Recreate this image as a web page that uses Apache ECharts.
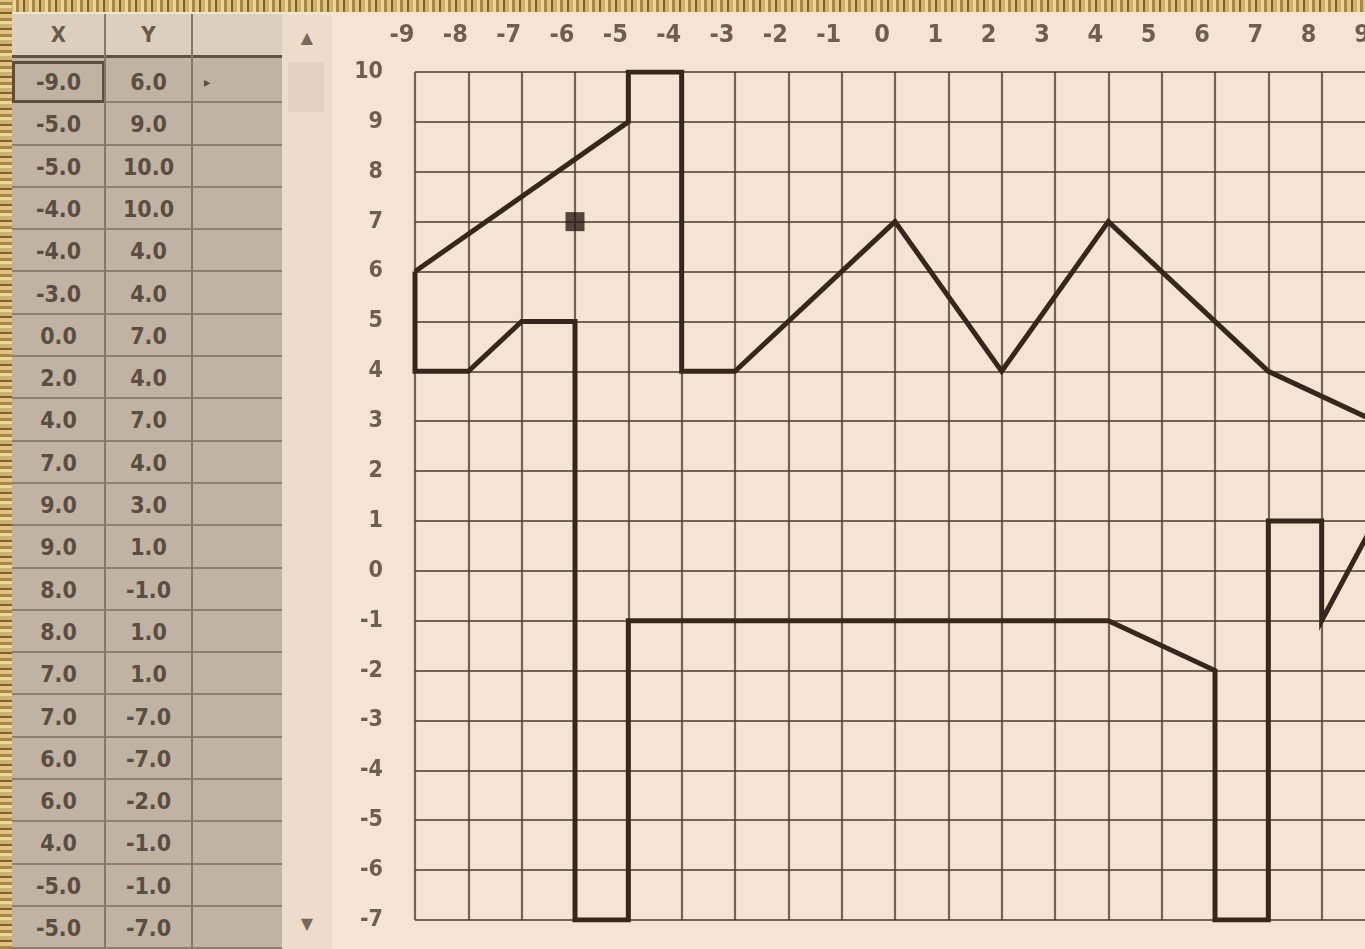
<!DOCTYPE html>
<html>
<head>
<meta charset="utf-8">
<script src="https://cdn.jsdelivr.net/npm/echarts@6/dist/echarts.min.js"></script>
<style>
html,body{margin:0;padding:0;width:1365px;height:949px;overflow:hidden;background:#f4e4d3;}
#chart{position:absolute;left:0;top:0;width:1420px;height:949px;z-index:1;}
#topband{position:absolute;left:0;top:0;width:1365px;height:12px;z-index:5;
  background:repeating-linear-gradient(90deg,#a98642 0 3px,#dcc483 3px 7px,#7f6129 7px 9px,#cfb36b 9px 13px,#e9d69a 13px 16px);}
#leftband{position:absolute;left:0;top:0;width:12px;height:949px;z-index:5;
  background:repeating-linear-gradient(0deg,#a98642 0 3px,#dcc483 3px 7px,#7f6129 7px 9px,#cfb36b 9px 13px,#e9d69a 13px 16px);}
#sheet{position:absolute;left:12px;top:14px;width:270px;height:935px;z-index:3;background:#c0b3a3;
  font-family:"DejaVu Sans Condensed","DejaVu Sans",sans-serif;font-weight:bold;color:#5b4d3f;}
#sheet .hdr{position:absolute;top:0;height:44px;background:#dccfbf;border-bottom:3px solid #5e5244;box-sizing:border-box;
  font-size:22px;line-height:42px;text-align:center;color:#6a5a4a;}
#sheet .cell{position:absolute;box-sizing:border-box;border-bottom:2px solid #8d8070;text-align:center;font-size:23px;}
#sheet .vline{position:absolute;top:0;width:2px;height:935px;background:#85786a;}
#scroll{position:absolute;left:282px;top:14px;width:50px;height:935px;background:#ecddcb;z-index:3;}
#scroll .thumb{position:absolute;left:6px;top:48px;width:36px;height:50px;background:#e2d3c1;}
#scroll .arr{position:absolute;left:0;width:50px;text-align:center;font-size:16px;color:#77685a;font-family:"DejaVu Sans",sans-serif;}
</style>
</head>
<body>
<div id="chart"></div>
<div id="sheet"></div>
<div id="scroll"><div class="thumb"></div><div class="arr" style="top:14px">▲</div><div class="arr" style="top:900px">▼</div></div>
<div id="topband"></div>
<div id="leftband"></div>
<script>
// ---- data: camel outline, drawn point by point (x, y) ----
const xs = [-9, -5, -5, -4, -4, -3, 0, 2, 4, 7, 9, 9, 8, 8, 7, 7, 6, 6, 4, -5, -5, -6, -6, -7, -8, -9, -9];
const ys = [ 6,  9, 10, 10,  4,  4, 7, 4, 7, 4, 3, 1, -1, 1, 1, -7, -7, -2, -1, -1, -7, -7, 5, 5, 4, 4, 6];
const eyeX = [-6];
const eyeY = [7];
const xTicks = [-9,-8,-7,-6,-5,-4,-3,-2,-1,0,1,2,3,4,5,6,7,8,9];
const yTicks = [10,9,8,7,6,5,4,3,2,1,0,-1,-2,-3,-4,-5,-6,-7];
const headers = ['X', 'Y', ''];

// ---- spreadsheet table (left) ----
const sheet = document.getElementById('sheet');
const colL = [0, 93, 180], colW = [93, 87, 90];
headers.forEach((h, i) => {
  const d = document.createElement('div');
  d.className = 'hdr'; d.style.left = colL[i] + 'px'; d.style.width = colW[i] + 'px';
  d.textContent = h; sheet.appendChild(d);
});
const rowTop = 47, rowH = 42.3;
for (let r = 0; r < 21; r++) {
  const vals = [xs[r].toFixed(1), ys[r].toFixed(1), r === 0 ? '▸' : ''];
  vals.forEach((v, i) => {
    const d = document.createElement('div');
    d.className = 'cell';
    d.style.left = colL[i] + 'px'; d.style.width = colW[i] + 'px';
    d.style.top = (rowTop + r * rowH) + 'px'; d.style.height = rowH + 'px';
    d.style.lineHeight = rowH + 'px';
    if (i === 2) { d.style.fontSize = '14px'; d.style.textAlign = 'left'; d.style.paddingLeft = '12px'; }
    if (r === 0 && i === 0) { d.style.border = '3px solid #5a4e40'; d.style.lineHeight = (rowH - 6) + 'px'; }
    d.textContent = v;
    sheet.appendChild(d);
  });
}
[93, 180].forEach(x => { const l = document.createElement('div'); l.className = 'vline'; l.style.left = (x - 1) + 'px'; sheet.appendChild(l); });

// ---- chart ----
const chart = echarts.init(document.getElementById('chart'), null, { renderer: 'canvas' });
const outline = xs.map((x, i) => [x, ys[i]]);
const eye = eyeX.map((x, i) => [x, eyeY[i]]);
const gridColor = 'rgba(85,66,52,0.8)';
const labelFont = '"DejaVu Sans Condensed", "Liberation Sans Narrow", sans-serif';
chart.setOption({
  animation: false,
  backgroundColor: 'transparent',
  grid: { left: 415, top: 72, width: 960, height: 848, containLabel: false },
  xAxis: {
    type: 'value', position: 'top', min: -9, max: 9, interval: 1,
    axisLine: { show: false }, axisTick: { show: false },
    splitLine: { show: true, lineStyle: { color: gridColor, width: 2.2 } },
    axisLabel: {
      margin: 24, color: '#6e5e4f', fontSize: 25, fontWeight: 'bold',
      fontFamily: labelFont,
      padding: [0, 26, 0, 0],
      formatter: v => xTicks.includes(v) ? String(v) : ''
    }
  },
  yAxis: {
    type: 'value', min: -7, max: 10, interval: 1,
    axisLine: { show: false }, axisTick: { show: false },
    splitLine: { show: true, lineStyle: { color: gridColor, width: 2.2 } },
    axisLabel: {
      margin: 32, color: '#6e5e4f', fontSize: 23, fontWeight: 'bold',
      fontFamily: labelFont,
      formatter: v => yTicks.includes(v) ? String(v) : ''
    }
  },
  series: [
    {
      type: 'line', data: outline, symbol: 'none', clip: true,
      lineStyle: { color: '#35271c', width: 5, join: 'miter' }, z: 5
    },
    {
      type: 'scatter', data: eye, symbol: 'rect', symbolSize: 19,
      itemStyle: { color: '#2a1d14' }, z: 6
    }
  ]
});
</script>
</body>
</html>
